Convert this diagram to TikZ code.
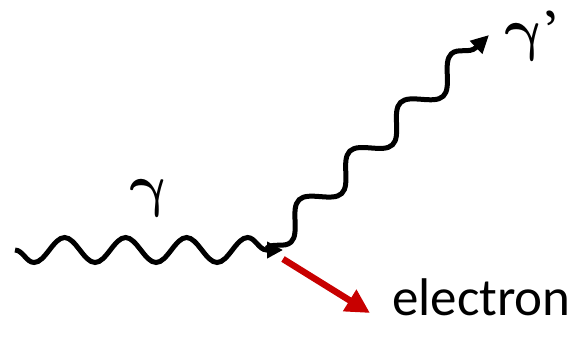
\RequirePackage{fix-cm}
\documentclass[tikz,border=0pt]{standalone}
\usepackage{bm}
\usepackage{fontspec}
\setmainfont{Carlito}
\newfontfamily\quotefont{Liberation Serif}
\usepackage{tikz}
\usetikzlibrary{arrows.meta}
\usetikzlibrary{decorations.pathmorphing}
\definecolor{elred}{RGB}{200,0,0}

\begin{document}
\begin{tikzpicture}[x=1pt,y=-1pt]
        \useasboundingbox (0,0) rectangle (584,349);
        \coordinate (inA) at (15,250);
        \coordinate (vtx) at (283,250);
        \coordinate (outA) at (266.5,248.3);
        \coordinate (outB) at (489,35);
        \coordinate (elA) at (283,259);
        \coordinate (elB) at (370,313);
        % incoming and scattered photon
        \draw[line width=5pt,-{Triangle[length=16pt,width=16pt]},decorate,
              decoration={snake,amplitude=12.5pt,segment length=61pt,post length=15.5pt,mirror}]
              (inA) -- (vtx);
        \draw[line width=5pt,-{Triangle[length=18pt,width=17pt]},decorate,
              decoration={snake,amplitude=12.5pt,segment length=70.3pt,post length=17pt,mirror}]
              (outA) -- (outB);
        % recoil electron
        \draw[line width=6.5pt,elred,-{Triangle[length=24pt,width=24pt]}] (elA) -- (elB);
        \node[inner sep=0pt,xslant=-0.22] (gam) at (151,198) {\fontsize{58}{60}\selectfont$\bm{\gamma}$};
        \node[inner sep=0pt,xslant=-0.22,anchor=west] (gamp) at (505,36) {\fontsize{58}{60}\selectfont$\bm{\gamma}$\kern2pt\quotefont ’};
        \node[inner sep=0pt,anchor=base west] (elec) at (392,315) {\fontsize{53}{58}\selectfont electron};
    \end{tikzpicture}
\end{document}
